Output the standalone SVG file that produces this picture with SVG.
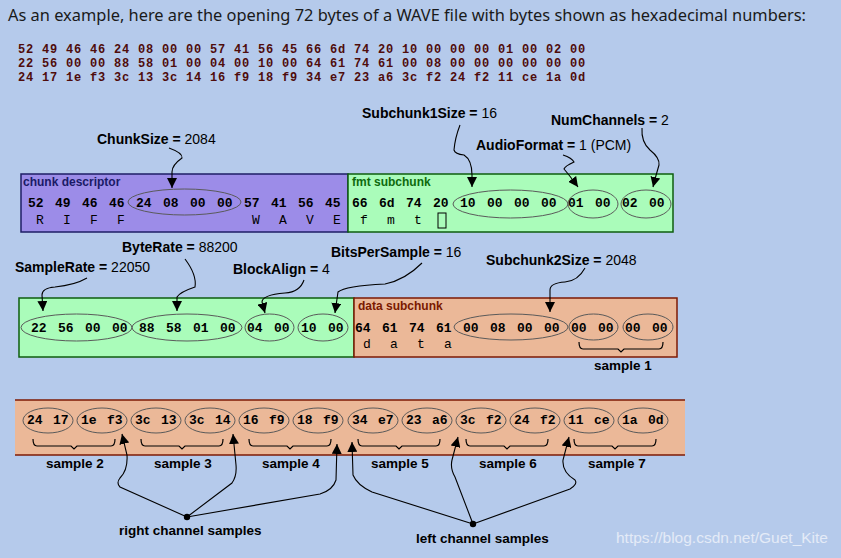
<svg xmlns="http://www.w3.org/2000/svg" width="841" height="558" viewBox="0 0 841 558">
<style>
.lbl{font-family:"Liberation Sans",Arial,sans-serif;font-size:14px;fill:#000}
.b{font-weight:bold}
.hex{font-family:"Liberation Mono","Courier New",monospace;font-weight:bold;font-size:13px;fill:#000}
.asc{font-family:"Liberation Mono","Courier New",monospace;font-size:13px;fill:#000}
.top{font-family:"Liberation Mono","Courier New",monospace;font-weight:bold;font-size:12px;letter-spacing:0.8px;fill:#4f0c0c}
.ell{fill:none;stroke:#5a5a5a;stroke-width:1}
.conn{fill:none;stroke:#000;stroke-width:1.1}
.brace{fill:none;stroke:#000;stroke-width:1.2}
.smp{font-family:"Liberation Sans",Arial,sans-serif;font-weight:bold;font-size:13.5px;fill:#000}
.sec{font-family:"Liberation Sans",Arial,sans-serif;font-weight:bold;font-size:12px}
</style>
<defs>
<marker id="ah" markerUnits="userSpaceOnUse" markerWidth="10" markerHeight="10" refX="10" refY="5" orient="auto">
<path d="M0,0 L10,5 L0,10 z" fill="#000"/>
</marker>
</defs>
<rect x="0" y="0" width="841" height="558" fill="#b5caeb"/>
<text x="8" y="21" font-family="'Noto Sans','Open Sans',sans-serif" font-size="15.5" fill="#1a1a1a" textLength="798" lengthAdjust="spacingAndGlyphs">As an example, here are the opening 72 bytes of a WAVE file with bytes shown as hexadecimal numbers:</text>
<g id="hexdump" class="top">
<text x="18" y="53">52 49 46 46 24 08 00 00 57 41 56 45 66 6d 74 20 10 00 00 00 01 00 02 00</text>
<text x="18" y="67">22 56 00 00 88 58 01 00 04 00 10 00 64 61 74 61 00 08 00 00 00 00 00 00</text>
<text x="18" y="81">24 17 1e f3 3c 13 3c 14 16 f9 18 f9 34 e7 23 a6 3c f2 24 f2 11 ce 1a 0d</text>
</g>

<g id="chunk-descriptor">
<rect x="21" y="174" width="327" height="58" fill="#9c8ce8" stroke="#1e1e66" stroke-width="1.5"/>
<text x="23" y="186" class="sec" fill="#1a1a66">chunk descriptor</text>
<text class="hex" y="207"><tspan x="28">52</tspan><tspan x="55">49</tspan><tspan x="82">46</tspan><tspan x="109">46</tspan><tspan x="136">24</tspan><tspan x="163">08</tspan><tspan x="190">00</tspan><tspan x="217">00</tspan><tspan x="244">57</tspan><tspan x="271">41</tspan><tspan x="298">56</tspan><tspan x="325">45</tspan></text>
<text class="asc" y="224"><tspan x="36">R</tspan><tspan x="63">I</tspan><tspan x="90">F</tspan><tspan x="117">F</tspan><tspan x="252">W</tspan><tspan x="279">A</tspan><tspan x="306">V</tspan><tspan x="333">E</tspan></text>
<ellipse class="ell" cx="184.5" cy="202" rx="56.5" ry="13"/>
</g>

<g id="fmt-subchunk">
<rect x="348" y="174" width="325" height="58" fill="#aafcba" stroke="#0e5e0e" stroke-width="1.5"/>
<text x="352" y="186" class="sec" fill="#0e6a0e">fmt subchunk</text>
<text class="hex" y="207"><tspan x="352">66</tspan><tspan x="379">6d</tspan><tspan x="406">74</tspan><tspan x="433">20</tspan><tspan x="460">10</tspan><tspan x="487">00</tspan><tspan x="514">00</tspan><tspan x="541">00</tspan><tspan x="568">01</tspan><tspan x="595">00</tspan><tspan x="622">02</tspan><tspan x="649">00</tspan></text>
<text class="asc" y="224"><tspan x="360">f</tspan><tspan x="387">m</tspan><tspan x="414">t</tspan></text>
<rect x="438" y="213" width="8" height="15" fill="none" stroke="#000" stroke-width="1"/>
<ellipse class="ell" cx="510.5" cy="204" rx="57.5" ry="14"/>
<ellipse class="ell" cx="593" cy="204" rx="25" ry="14"/>
<ellipse class="ell" cx="646" cy="204" rx="25" ry="14"/>
</g>

<g id="fmt-subchunk-cont">
<rect x="19" y="298" width="335" height="59" fill="#aafcba" stroke="#0e5e0e" stroke-width="1.5"/>
<text class="hex" y="331.5"><tspan x="31">22</tspan><tspan x="58">56</tspan><tspan x="85">00</tspan><tspan x="112">00</tspan><tspan x="139">88</tspan><tspan x="166">58</tspan><tspan x="193">01</tspan><tspan x="220">00</tspan><tspan x="247">04</tspan><tspan x="274">00</tspan><tspan x="301">10</tspan><tspan x="328">00</tspan></text>
<ellipse class="ell" cx="76.5" cy="327.5" rx="55.5" ry="13.5"/>
<ellipse class="ell" cx="187" cy="327.5" rx="55" ry="13.5"/>
<ellipse class="ell" cx="269.5" cy="327.5" rx="24.5" ry="13.5"/>
<ellipse class="ell" cx="323" cy="327.5" rx="25" ry="13.5"/>
</g>

<g id="data-subchunk">
<rect x="354" y="298" width="323" height="59" fill="#ebb898" stroke="#7e1a04" stroke-width="1.5"/>
<text x="358" y="310" class="sec" fill="#7a1800">data subchunk</text>
<text class="hex" y="332"><tspan x="355">64</tspan><tspan x="382">61</tspan><tspan x="409">74</tspan><tspan x="436">61</tspan><tspan x="463">00</tspan><tspan x="490">08</tspan><tspan x="517">00</tspan><tspan x="544">00</tspan><tspan x="571">00</tspan><tspan x="598">00</tspan><tspan x="625">00</tspan><tspan x="652">00</tspan></text>
<text class="asc" y="348"><tspan x="363">d</tspan><tspan x="390">a</tspan><tspan x="417">t</tspan><tspan x="444">a</tspan></text>
<ellipse class="ell" cx="511" cy="327" rx="57" ry="13"/>
<ellipse class="ell" cx="593.5" cy="327" rx="24.5" ry="13"/>
<ellipse class="ell" cx="648" cy="327" rx="25" ry="13"/>
<path class="brace" d="M579,342 Q579,349 583,349 L618,349 L621,352 L624,349 L659,349 Q663,349 663,342"/>
<text class="smp" x="623" y="370" text-anchor="middle">sample 1</text>
</g>

<g id="data-samples">
<rect x="15" y="400" width="670" height="55" fill="#ebb898"/>
<line x1="15" y1="400" x2="685" y2="400" stroke="#7e1a04" stroke-width="1.5"/>
<line x1="15" y1="455" x2="685" y2="455" stroke="#7e1a04" stroke-width="1.5"/>
<g class="ell">
<ellipse cx="48" cy="420.5" rx="25" ry="12.5"/><ellipse cx="102" cy="420.5" rx="25" ry="12.5"/>
<ellipse cx="156" cy="420.5" rx="25" ry="12.5"/><ellipse cx="210" cy="420.5" rx="25" ry="12.5"/>
<ellipse cx="264" cy="420.5" rx="25" ry="12.5"/><ellipse cx="318" cy="420.5" rx="25" ry="12.5"/>
<ellipse cx="373" cy="420.5" rx="25" ry="12.5"/><ellipse cx="427" cy="420.5" rx="25" ry="12.5"/>
<ellipse cx="481" cy="420.5" rx="25" ry="12.5"/><ellipse cx="535" cy="420.5" rx="25" ry="12.5"/>
<ellipse cx="589" cy="420.5" rx="25" ry="12.5"/><ellipse cx="643" cy="420.5" rx="25" ry="12.5"/>
</g>
<text class="hex" y="424"><tspan x="27">24</tspan><tspan x="53">17</tspan><tspan x="81">1e</tspan><tspan x="107">f3</tspan><tspan x="135">3c</tspan><tspan x="161">13</tspan><tspan x="189">3c</tspan><tspan x="215">14</tspan><tspan x="243">16</tspan><tspan x="269">f9</tspan><tspan x="297">18</tspan><tspan x="323">f9</tspan><tspan x="352">34</tspan><tspan x="378">e7</tspan><tspan x="406">23</tspan><tspan x="432">a6</tspan><tspan x="460">3c</tspan><tspan x="486">f2</tspan><tspan x="514">24</tspan><tspan x="540">f2</tspan><tspan x="568">11</tspan><tspan x="594">ce</tspan><tspan x="622">1a</tspan><tspan x="648">0d</tspan></text>
<g class="brace">
<path d="M33,439 Q33,446 37,446 L71,446 L74,449 L77,446 L111,446 Q115,446 115,439"/>
<path d="M141,439 Q141,446 145,446 L179,446 L182,449 L185,446 L219,446 Q223,446 223,439"/>
<path d="M249,439 Q249,446 253,446 L287,446 L290,449 L293,446 L327,446 Q331,446 331,439"/>
<path d="M358,439 Q358,446 362,446 L396,446 L399,449 L402,446 L436,446 Q440,446 440,439"/>
<path d="M466,439 Q466,446 470,446 L504,446 L507,449 L510,446 L544,446 Q548,446 548,439"/>
<path d="M574,439 Q574,446 578,446 L612,446 L615,449 L618,446 L652,446 Q656,446 656,439"/>
</g>
<g class="smp" text-anchor="middle">
<text x="75" y="468">sample 2</text>
<text x="183" y="468">sample 3</text>
<text x="291" y="468">sample 4</text>
<text x="400" y="468">sample 5</text>
<text x="508" y="468">sample 6</text>
<text x="617" y="468">sample 7</text>
</g>
</g>

<g id="labels" class="lbl">
<text x="97" y="144"><tspan class="b">ChunkSize =</tspan> 2084</text>
<text x="362" y="118"><tspan class="b">Subchunk1Size =</tspan> 16</text>
<text x="476" y="150"><tspan class="b">AudioFormat =</tspan> 1 (PCM)</text>
<text x="551" y="125"><tspan class="b">NumChannels =</tspan> 2</text>
<text x="122" y="252"><tspan class="b">ByteRate =</tspan> 88200</text>
<text x="15" y="272"><tspan class="b">SampleRate =</tspan> 22050</text>
<text x="233" y="274"><tspan class="b">BlockAlign =</tspan> 4</text>
<text x="331" y="257"><tspan class="b">BitsPerSample =</tspan> 16</text>
<text x="486" y="265"><tspan class="b">Subchunk2Size =</tspan> 2048</text>
</g>

<g id="right-channel">
<circle cx="187" cy="517" r="3.2" fill="#000"/>
<text class="smp" x="119" y="535">right channel samples</text>
</g>
<g id="left-channel">
<circle cx="473" cy="524" r="3.2" fill="#000"/>
<text class="smp" x="416" y="543">left channel samples</text>
</g>

<g id="connectors" class="conn" marker-end="url(#ah)">
<path d="M169,148 Q183,153 182,158 Q172,165 172,172 L172,188"/>
<path d="M460,125 Q455,138 454,150 Q455,154 464,155 Q472,160 472,175 L472,187"/>
<path d="M563,155 Q572,158 574,162 Q565,166 564,169 Q570,176 578,187"/>
<path d="M642,128 Q641,142 650,150 Q660,158 659,165 Q656,175 653,187"/>
<path d="M87,278 Q75,285 55,287 Q42,288 42,295 L43,311"/>
<path d="M185,259 Q197,275 195,287 Q180,292 177,297 L177,311"/>
<path d="M304,280 Q300,292 285,293 Q262,295 262,302 L265,313"/>
<path d="M422,263 Q405,280 385,284 Q345,286 338,292 L335,313"/>
<path d="M585,268 Q578,281 565,282 Q550,283 550,290 L550,312"/>
<path d="M187,517 L120,487 Q116,483 120,478 Q128,470 127,455 L122,434"/>
<path d="M187,517 L232,483 Q237,476 236,465 L233,434"/>
<path d="M187,517 L320,494 Q333,490 336,480 L337,444"/>
<path d="M473,524 L372,492 Q357,485 353,475 L352,442"/>
<path d="M473,524 Q462,495 455,477 Q450,468 452,460 L458,437"/>
<path d="M473,524 L570,489 Q578,484 575,480 Q562,472 563,460 L569,437"/>
</g>

<text x="616" y="543" font-family="'Liberation Sans',Arial,sans-serif" font-size="15.5" fill="#e4ebf7">https://blog.csdn.net/Guet_Kite</text>
</svg>
